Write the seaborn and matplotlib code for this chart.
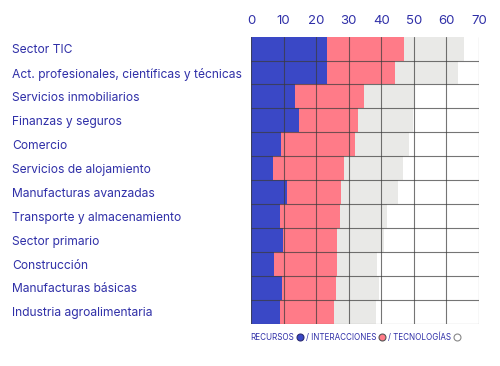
import numpy as np
import pandas as pd
import matplotlib
matplotlib.use("Agg")
import matplotlib.pyplot as plt
from matplotlib.lines import Line2D
import seaborn as sns

sectors = ["Sector TIC", "Act. profesionales, científicas y técnicas",
           "Servicios inmobiliarios", "Finanzas y seguros", "Comercio",
           "Servicios de alojamiento", "Manufacturas avanzadas",
           "Transporte y almacenamiento", "Sector primario", "Construcción",
           "Manufacturas básicas", "Industria agroalimentaria"]
recursos = [23.4, 23.4, 13.4, 14.7, 9.2, 6.7, 11.0, 8.9, 9.9, 7.2, 9.5, 9.0]
interacciones = [23.7, 20.9, 21.2, 18.1, 22.7, 21.9, 16.7, 18.4, 16.4, 19.2, 16.5, 16.4]
tecnologias = [18.3, 19.2, 15.3, 16.8, 16.7, 18.0, 17.5, 14.5, 14.6, 12.4, 13.2, 12.9]
xticks = [0, 10, 20, 30, 40, 50, 60, 70]

BLUE = "#3a48c6"
PINK = "#ff7b88"
GRAY = "#e9e9e7"
INK = "#3030a8"

df = pd.DataFrame({"sector": sectors, "rec": recursos,
                   "int": interacciones, "tec": tecnologias})
df["c1"] = df["rec"]
df["c2"] = df["rec"] + df["int"]
df["c3"] = df["c2"] + df["tec"]

sns.set_style("white")
plt.rcParams["font.family"] = ["Inter", "DejaVu Sans"]

fig = plt.figure(figsize=(5, 3.66), dpi=100)
ax = fig.add_axes([0.502, 0.115, 0.456, 0.785])

# stacked bars: draw cumulative totals back to front
for col, color in [("c3", GRAY), ("c2", PINK), ("c1", BLUE)]:
    sns.barplot(data=df, x=col, y="sector", color=color, width=1.0,
                linewidth=0, saturation=1, ax=ax)

ax.set_xlim(0, 70)
ax.set_ylim(11.5, -0.5)
ax.set_xticks(xticks)
ax.xaxis.tick_top()
ax.set_xlabel("")
ax.set_ylabel("")
ax.tick_params(axis="x", length=0, pad=7, labelsize=9.5, labelcolor=INK)
ax.tick_params(axis="y", length=0, pad=172, labelsize=8.7, labelcolor=INK)
for lab in ax.get_yticklabels():
    lab.set_horizontalalignment("left")

ax.set_yticks(np.arange(0.5, 12, 1), minor=True)
ax.set_axisbelow(False)
ax.grid(axis="x", which="major", color="#3a3a3a", lw=0.8, alpha=0.7)
ax.grid(axis="y", which="minor", color="#3a3a3a", lw=0.8, alpha=0.7)
ax.grid(axis="y", which="major", visible=False)
ax.tick_params(axis="y", which="minor", length=0)
for s in ax.spines.values():
    s.set_visible(False)

handles = [Line2D([], [], ls="", marker="o", ms=5, mfc=BLUE, mec="#2a2a70", mew=0.8),
           Line2D([], [], ls="", marker="o", ms=5, mfc=PINK, mec="#555555", mew=0.8),
           Line2D([], [], ls="", marker="o", ms=5, mfc="white", mec="#888888", mew=0.8)]
leg = ax.legend(handles, ["RECURSOS", "/ INTERACCIONES", "/ TECNOLOGÍAS"],
                ncol=3, markerfirst=False, frameon=False, loc="upper left",
                bbox_to_anchor=(-0.025, -0.012), fontsize=5.8, handletextpad=0.4,
                columnspacing=0.4, handlelength=0.7, labelcolor=INK,
                borderaxespad=0.2)

fig.savefig("out.png", dpi=100)
